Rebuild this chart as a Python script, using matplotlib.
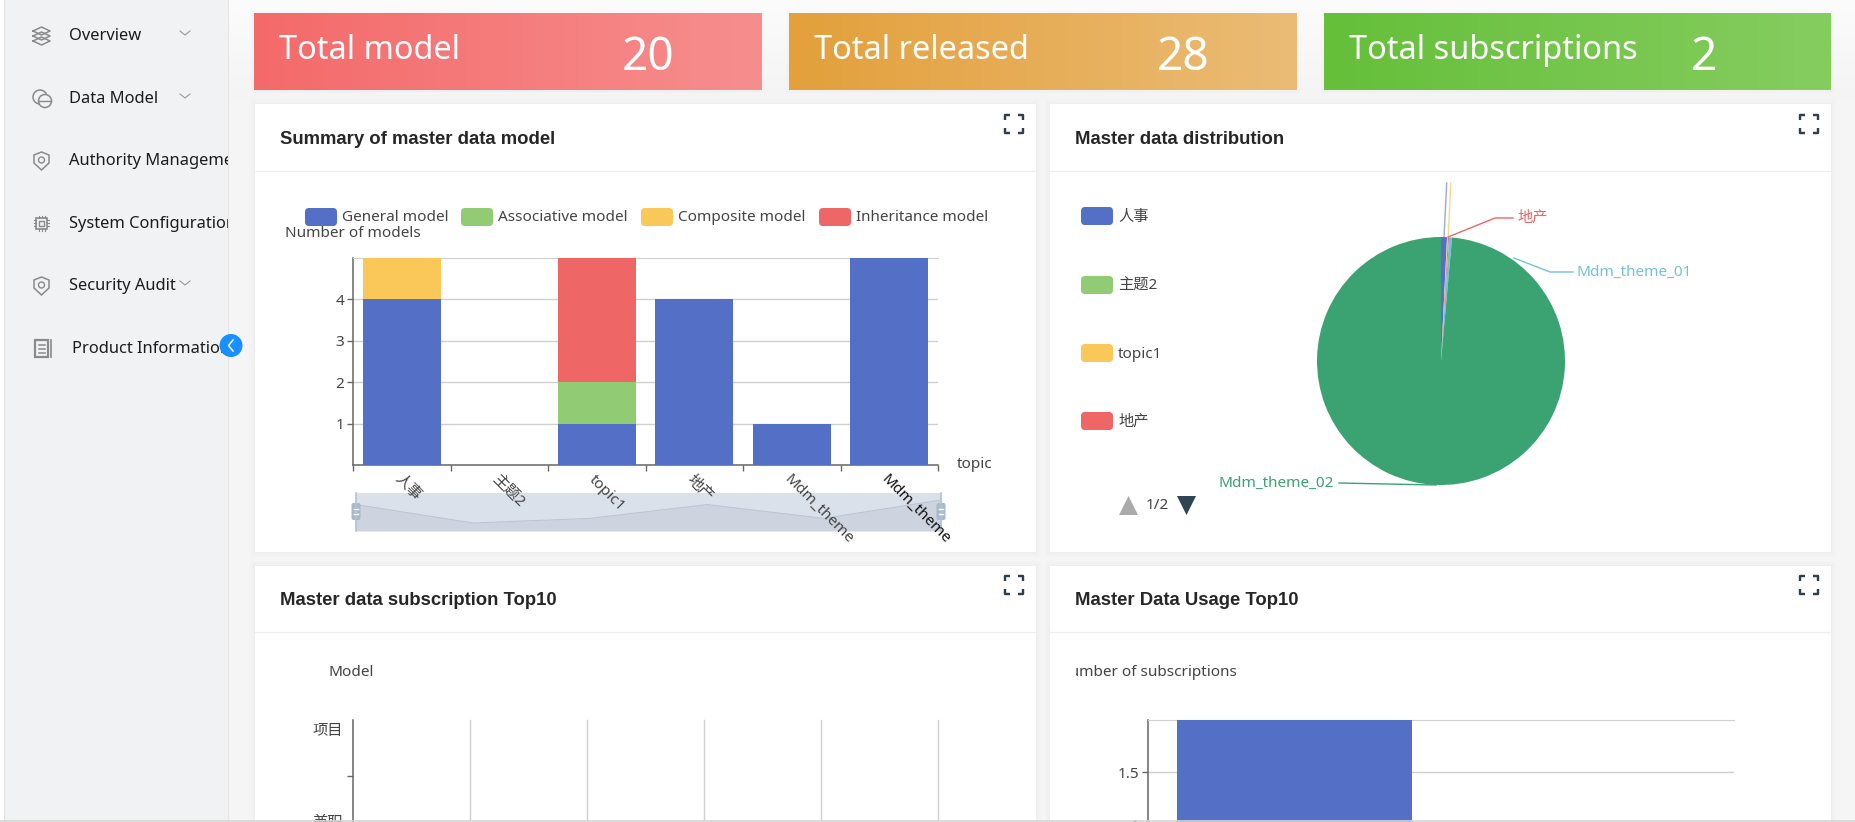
import numpy as np
import matplotlib
matplotlib.use("Agg")
import matplotlib.pyplot as plt
from matplotlib.colors import LinearSegmentedColormap
from matplotlib.patches import FancyBboxPatch, Rectangle, Circle, Polygon

plt.rcParams['font.family'] = ['Noto Sans', 'Noto Sans CJK SC', 'DejaVu Sans']

W, H = 1855, 822
FS = 15.3

# sidebar
menu_items = ["Overview", "Data Model", "Authority Management", "System Configuration", "Security Audit", "Product Information"]

# stat cards
stat_names = ["Total model", "Total released", "Total subscriptions"]
stat_values = [20, 28, 2]

# stacked bars
topics = ["人事", "主题2", "topic1", "地产", "Mdm_theme", "Mdm_theme"]
general_model = [4, 0, 1, 4, 1, 5]
associative_model = [0, 0, 1, 0, 0, 0]
composite_model = [1, 0, 0, 0, 0, 0]
inheritance_model = [0, 0, 3, 0, 0, 0]
series_names = ["General model", "Associative model", "Composite model", "Inheritance model"]
series_colors = ["#5470c6", "#91cc75", "#fac858", "#ee6666"]

# pie
pie_names = ["人事", "主题2", "topic1", "地产", "Mdm_theme_01", "Mdm_theme_02"]
pie_values = [6, 0, 1, 1, 3, 759]
pie_colors = ["#5470c6", "#91cc75", "#fac858", "#ee6666", "#73c0de", "#3ba272"]

# top10 charts
sub_models = ["项目", "兼职"]
sub_counts = [0, 0]
usage_counts = [2, 0]


def px(v):
    # css pixels to points
    return v * 0.72


def px_axes(l, t, r, b, z=2):
    ax = fig.add_axes([l / W, 1 - b / H, (r - l) / W, (b - t) / H], zorder=z)
    ax.patch.set_alpha(0)
    return ax


def gradient(x0, x1, y0, y1, c0, c1, horizontal=True):
    cm = LinearSegmentedColormap.from_list("g", [c0, c1])
    g = np.linspace(0, 1, 256)
    g = g[None, :] if horizontal else g[:, None]
    page.imshow(g, cmap=cm, extent=(x0, x1, y1, y0), aspect="auto", zorder=1)


def swatch(x, y, color):
    page.add_patch(FancyBboxPatch((x, y), 32, 18, boxstyle="round,pad=0,rounding_size=4", fc=color, ec="none", zorder=3))


def label(x, y, s, size=FS, color="#444444", **kw):
    kw.setdefault("va", "center")
    return page.text(x, y + 2, s, fontsize=px(size), color=color, zorder=6, **kw)


def fullscreen(cx, cy):
    for sx in (-1, 1):
        for sy in (-1, 1):
            page.plot([cx + sx * 9, cx + sx * 9, cx + sx * 4], [cy + sy * 4, cy + sy * 9, cy + sy * 9],
                      color="#2c3e50", lw=px(2.4), solid_capstyle="butt", zorder=5)


def panel(x0, y0, x1, y1, title, header_y):
    for grow, a in ((5, .006), (3, .008), (1, .01)):
        page.add_patch(Rectangle((x0 - grow, y0 - grow), x1 - x0 + 2 * grow, y1 - y0 + 2 * grow, fc="black", alpha=a, ec="none", zorder=1.5))
    page.add_patch(Rectangle((x0, y0), x1 - x0, y1 - y0, fc="white", ec="none", zorder=2))
    page.plot([x0, x1], [header_y, header_y], color="#ededf2", lw=px(1.2), zorder=3)
    label(x0 + 25, header_y - 34, title, size=18.5, color="#262626", fontweight="bold",
          family=["Liberation Sans", "DejaVu Sans"])
    fullscreen(x1 - 22, header_y - 47)


fig = plt.figure(figsize=(W / 100, H / 100), dpi=100, facecolor="white")
page = fig.add_axes([0, 0, 1, 1], zorder=0)
page.axis("off")

# page background
gradient(228, W, 0, 100, "#fcfcfc", "#f4f4f5", horizontal=False)
page.add_patch(Rectangle((228, 100), W - 228, H - 100, fc="#f5f5f6", ec="none", zorder=1))
page.add_patch(Rectangle((4, 0), 224, H, fc="#f1f2f4", ec="none", zorder=1))
page.plot([4, 4], [0, H], color="#e3e3e3", lw=0.8, zorder=2)
page.plot([228, 228], [0, H], color="#e6e6e6", lw=0.8, zorder=2)

# sidebar rows
menu_y = [34, 97, 159, 222, 284, 347]
menu_x = [69, 69, 69, 69, 69, 72]
chevrons = [True, True, False, False, True, False]
clip = Rectangle((0, 0), 228, H, transform=page.transData)
clip2 = Rectangle((0, 0), 222, H, transform=page.transData)
for name, x, y, ch in zip(menu_items, menu_x, menu_y, chevrons):
    t = label(x, y, name, size=16.5, color="#1c1c1c")
    t.set_clip_on(True)
    t.set_clip_path(clip2 if name.startswith("Product") else clip)
    if ch:
        yc = 283 if name.startswith("Security") else y - 1
        page.plot([180, 185, 190], [yc - 2, yc + 2, yc - 2], color="#999999", lw=0.8, zorder=5)

ic = "#8a8a8a"
# layers
for dy in (-5, 0, 5):
    page.plot([33, 41.5, 50, 41.5, 33], [36 + dy, 32 + dy, 36 + dy, 40 + dy, 36 + dy], color=ic, lw=1.1, zorder=5)
# data model
page.add_patch(Circle((40, 97), 7, fc="none", ec=ic, lw=1.1, zorder=5))
page.add_patch(Circle((45, 101), 6.5, fc="#f1f2f4", ec=ic, lw=1.1, zorder=5))
page.plot([39, 51], [101, 101], color=ic, lw=1, zorder=6)
# shields
for cy in (161, 286):
    page.add_patch(Polygon([(34, cy - 6), (41.5, cy - 9), (49, cy - 6), (49, cy + 2), (41.5, cy + 9), (34, cy + 2)], fc="none", ec=ic, lw=1.1, zorder=5))
    page.add_patch(Circle((41.5, cy - 1), 3, fc="none", ec=ic, lw=1, zorder=5))
# chip
page.add_patch(Rectangle((36, 218), 11, 11, fc="none", ec=ic, lw=1.2, zorder=5))
page.add_patch(Rectangle((39, 221), 5, 5, fc="none", ec=ic, lw=1, zorder=5))
for d in (-3, 0, 3):
    page.plot([34, 36], [223.5 + d] * 2, color=ic, lw=.8, zorder=5)
    page.plot([47, 49], [223.5 + d] * 2, color=ic, lw=.8, zorder=5)
    page.plot([41.5 + d] * 2, [216, 218], color=ic, lw=.8, zorder=5)
    page.plot([41.5 + d] * 2, [229, 231], color=ic, lw=.8, zorder=5)
# document
page.add_patch(Rectangle((35, 340), 13, 17, fc="none", ec=ic, lw=1.6, zorder=5))
page.plot([51, 51], [340, 357], color=ic, lw=1.2, zorder=5)
for yy in (345, 349, 353):
    page.plot([38.5, 44.5], [yy, yy], color=ic, lw=1.1, zorder=5)
# collapse button
page.add_patch(Circle((231, 345.5), 11.5, fc="#1890ff", ec="none", zorder=7))
page.plot([233, 228.5, 233], [340, 345.5, 351], color="white", lw=1.1, zorder=8)

# stat cards
card_x = [(254, 762), (789, 1297), (1324, 1831)]
card_colors = [("#f76c6c", "#fa9090"), ("#e6a23c", "#eebf78"), ("#67c23a", "#88d062")]
value_x = [648, 1183, 1704]
for (x0, x1), (c0, c1), name, v, vx in zip(card_x, card_colors, stat_names, stat_values, value_x):
    page.add_patch(Rectangle((x0 - 3, 10), x1 - x0 + 6, 83, fc="black", alpha=.012, ec="none", zorder=1.5))
    gradient(x0, x1, 13, 90, c0, c1)
    label(x0 + 25, 48.5, name, size=32.5, color="white")
    label(vx, 55.5, str(v), size=46, color="white", ha="center")

# white panels
panel(255, 104, 1036, 552, "Summary of master data model", 171)
panel(1050, 104, 1831, 552, "Master data distribution", 171)
panel(255, 566, 1036, 830, "Master data subscription Top10", 632)
panel(1050, 566, 1831, 830, "Master Data Usage Top10", 632)

page.set_xlim(0, W)
page.set_ylim(H, 0)

axis_c = "#666666"
grid_c = "#d0d0d0"

# ---- stacked bar chart
for name, c, sx in zip(series_names, series_colors, [305, 461, 641, 819]):
    swatch(sx, 208, c)
    label(sx + 37, 215, name)
label(285, 231, "Number of models")
label(957, 462, "topic")

ax = px_axes(353, 258, 938, 465, z=3)
x = np.arange(len(topics))
bottom = np.zeros(len(topics))
for vals, c in zip([general_model, associative_model, composite_model, inheritance_model], series_colors):
    ax.bar(x, vals, width=0.8, bottom=bottom, color=c, zorder=3)
    bottom += np.array(vals)
ax.set_xlim(-0.5, 5.5)
ax.set_ylim(0, 5)
ax.set_yticks([1, 2, 3, 4])
ax.set_xticks(x)
ax.set_xticklabels(topics, rotation=-45, ha="left", va="top", rotation_mode="anchor", fontsize=px(FS), color="#444444")
ax.get_xticklabels()[-1].set_color("#111111")
ax.set_xticks(np.arange(-0.5, 6), minor=True)
ax.tick_params(axis="x", which="major", length=0, pad=px(7))
ax.tick_params(axis="x", which="minor", length=px(6), color=axis_c, width=1)
ax.tick_params(axis="y", length=px(6), color=axis_c, width=1, labelsize=px(FS), labelcolor="#444444", pad=px(3))
ax.grid(axis="y", color=grid_c, lw=1, zorder=1)
ax.spines["right"].set_visible(False)
ax.spines["top"].set_color(grid_c)
ax.spines["left"].set_color(axis_c)
ax.spines["bottom"].set_color(axis_c)
ax.spines["left"].set_linewidth(1.1)
ax.spines["bottom"].set_linewidth(1.1)

# data zoom strip below the bars, drawn from the first series
sl = px_axes(356, 493, 941, 531, z=2)
sl.fill_between(np.arange(len(topics)), general_model, -1.74, color="#cdd4df", lw=0)
sl.plot(np.arange(len(topics)), general_model, color="#bcc5d3", lw=0.8)
sl.set_xlim(0, 5)
sl.set_ylim(-1.74, 6.52)
sl.set_facecolor("#dbe1eb")
sl.patch.set_alpha(1)
sl.set_xticks([])
sl.set_yticks([])
for s in sl.spines.values():
    s.set_visible(False)
ov = fig.add_axes([0, 0, 1, 1], zorder=2.5)
ov.axis("off")
ov.set_xlim(0, W)
ov.set_ylim(H, 0)
for hx in (356, 941):
    ov.plot([hx, hx], [493, 531], color="#b4c0d2", lw=1.2)
    ov.add_patch(FancyBboxPatch((hx - 4.5, 503), 9, 17, boxstyle="round,pad=0,rounding_size=2", fc="#a9b8cf", ec="none"))
    ov.plot([hx - 2, hx + 2], [509, 509], color="white", lw=1)
    ov.plot([hx - 2, hx + 2], [514, 514], color="white", lw=1)

# ---- pie chart
pie_ax = px_axes(1441 - 124, 361 - 124, 1441 + 124, 361 + 124, z=3)
pie_ax.pie(pie_values, colors=pie_colors, startangle=90, counterclock=False, radius=1)
pie_ax.set_xlim(-1, 1)
pie_ax.set_ylim(-1, 1)

for name, c, yy in zip(pie_names[:4], pie_colors[:4], [215, 284, 352, 420]):
    swatch(1081, yy - 8, c)
    label(1118, yy, name)

page.add_patch(Polygon([(1119, 515), (1128.5, 496), (1138, 515)], fc="#aaaaaa", ec="none", zorder=5))
label(1146, 503, "1/2")
page.add_patch(Polygon([(1177, 496), (1196, 496), (1186.5, 515)], fc="#2f4554", ec="none", zorder=5))

# leader lines
page.plot([1446.7, 1444], [183, 237], color=pie_colors[0], alpha=.6, lw=1, zorder=4)
page.plot([1450.7, 1448.3], [183, 237], color=pie_colors[2], alpha=.7, lw=1, zorder=4)
ov.plot([1448, 1495, 1513], [237, 218, 218], color=pie_colors[3], lw=1)
label(1517, 216, pie_names[3], color=pie_colors[3])
ov.plot([1514, 1550, 1573], [258, 272, 272], color=pie_colors[4], lw=1)
label(1577, 270, pie_names[4], color=pie_colors[4])
ov.plot([1339, 1436], [483, 485], color=pie_colors[5], lw=1)
label(1219, 481, pie_names[5], color=pie_colors[5])

# ---- subscription top10 (runs off the bottom of the screenshot)
label(329, 670, "Model")
ax3 = px_axes(353, 720, 938, 870)
ax3.barh([0, 1], sub_counts, color=series_colors[0])
ax3.set_xlim(0, 5)
ax3.set_ylim(140 / 92, -10 / 92)
ax3.set_xticks([1, 2, 3, 4, 5])
ax3.set_yticks([0, 1])
ax3.set_yticklabels(sub_models, fontsize=px(FS), color="#444444")
ax3.set_yticks([0.5], minor=True)
ax3.tick_params(axis="x", length=0, labelbottom=False)
ax3.tick_params(axis="y", which="major", length=0, pad=px(10))
ax3.tick_params(axis="y", which="minor", length=px(6), color=axis_c, width=1)
ax3.grid(axis="x", color=grid_c, lw=1, clip_on=False)
for s in ("top", "right", "bottom"):
    ax3.spines[s].set_visible(False)
ax3.spines["left"].set_color(axis_c)
ax3.spines["left"].set_linewidth(1.1)

# ---- usage top10
t = label(1237, 670, "Number of subscriptions", ha="right")
t.set_clip_on(True)
t.set_clip_path(Rectangle((1076, 650), 200, 40, transform=page.transData))
ax4 = px_axes(1148, 720, 1734, 928)
ax4.bar([0, 1], usage_counts, width=0.8, color=series_colors[0], zorder=3)
ax4.set_xlim(-0.5, 1.5)
ax4.set_ylim(0, 2)
ax4.set_xticks([])
ax4.set_yticks([0.5, 1, 1.5])
ax4.set_yticklabels(["0.5", "1", "1.5"])
ax4.tick_params(axis="y", length=px(6), color=axis_c, width=1, labelsize=px(FS), labelcolor="#444444", pad=px(3))
ax4.grid(axis="y", color=grid_c, lw=1, zorder=1)
ax4.spines["right"].set_visible(False)
ax4.spines["bottom"].set_visible(False)
ax4.spines["top"].set_color(grid_c)
ax4.spines["left"].set_color(axis_c)
ax4.spines["left"].set_linewidth(1.1)

# edge of the screenshot window
ov2 = fig.add_axes([0, 0, 1, 1], zorder=9)
ov2.axis("off")
ov2.set_xlim(0, W)
ov2.set_ylim(H, 0)
ov2.plot([0, W], [821, 821], color="#d4d4d4", lw=1.2)

fig.savefig("out.png", dpi=100)
